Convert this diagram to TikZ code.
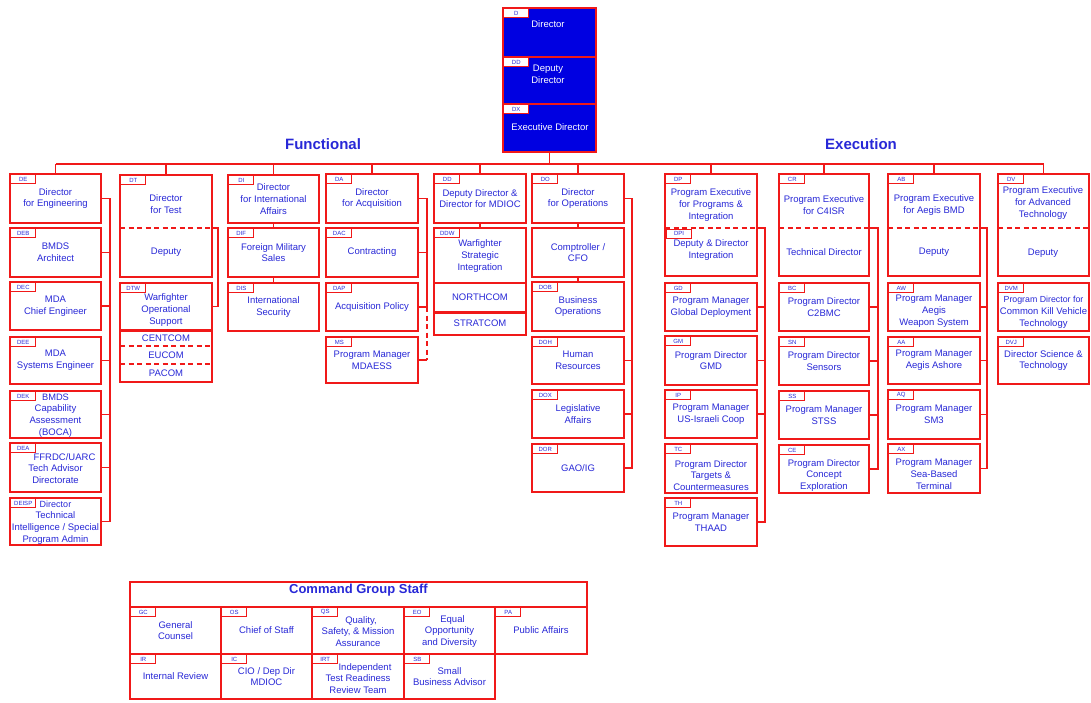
\documentclass[tikz,border=0pt]{standalone}
\usepackage{fontspec}
\setmainfont{Liberation Sans}
\usetikzlibrary{fit,calc}
\definecolor{rd}{RGB}{240,25,25}
\definecolor{tb}{RGB}{40,40,215}
\definecolor{dirblue}{RGB}{0,0,225}
\tikzset{
 obx/.style={draw=rd, line width=1.8pt, inner sep=0pt, align=center, text=tb},
 dbx/.style={draw=rd, line width=1.8pt, fill=dirblue, inner sep=0pt},
 lab/.style={draw=rd, line width=0.9pt, fill=white, text=tb, font=\fontsize{6}{6}\selectfont, minimum width=25pt, minimum height=8.5pt, inner sep=0.5pt, anchor=north west},
 conn/.style={draw=rd, line width=1.6pt},
 dsh/.style={draw=rd, line width=1.6pt, dash pattern=on 5pt off 3.5pt},
 txt/.style={text=tb, align=center, inner sep=0pt, font=\fontsize{9.5}{11.8}\selectfont},
 wtxt/.style={text=white, align=center, inner sep=0pt, font=\fontsize{9.5}{11.8}\selectfont},
 ttl/.style={text=tb, font=\fontsize{15}{17}\selectfont\bfseries, inner sep=0pt},
}
% \bx[text shift down]{name}{x1}{y1}{x2}{y2}{text}
\newcommand{\bx}[7][0]{\node[obx, fit={(#3,#4) (#5,#6)}] (#2) {};
  \node[txt] (#2-t) at ($(#2.center)+(0,#1)$) {#7};}
\newcommand{\lb}[2]{\node[lab] (#1-l) at ([shift={(1.2,1.2)}]#1.north west) {#2};}
\newcommand{\lbat}[3]{\node[lab] (#1) at (#2) {#3};}
\begin{document}
\begin{tikzpicture}[x=1pt,y=-1pt]
\useasboundingbox[fill=white] (0,0) rectangle (1091,702);
% ---------- Director block
\node[dbx, fit={(503,8) (596,57)}] (D) {};
\node[dbx, fit={(503,57) (596,104)}] (DDir) {};
\node[dbx, fit={(503,104) (596,152)}] (DX) {};
\node[wtxt] (Dt) at (548,24) {Director};
\node[wtxt] (DDt) at (548,74) {Deputy\\Director};
\node[wtxt] (DXt) at (550,127) {Executive Director};
\lb{D}{D}\lb{DDir}{DD}\lb{DX}{DX}
% ---------- titles
\node[ttl] (fn) at (323,144) {Functional};
\node[ttl] (ex) at (861,144) {Execution};
% ---------- DE column
\bx{DE}{10}{174}{101}{223}{Director\\for Engineering}
\bx{DEB}{10}{228}{101}{277}{BMDS\\Architect}
\bx{DEC}{10}{282}{101}{330}{MDA\\Chief Engineer}
\bx{DEE}{10}{337}{101}{384}{MDA\\Systems Engineer}
\bx[1]{DEK}{10}{391}{101}{438}{\fontsize{9.3}{11.2}\selectfont BMDS\\Capability\\Assessment\\(BOCA)}
\bx[1]{DEA}{10}{443}{101}{492}{\hspace*{18pt}FFRDC/UARC\\Tech Advisor\\Directorate}
\bx[1]{DEISP}{10}{498}{101}{545}{\fontsize{9}{10.8}\selectfont Director\\Technical\\Intelligence / Special\\Program Admin}
\lb{DE}{DE}\lb{DEB}{DEB}\lb{DEC}{DEC}\lb{DEE}{DEE}\lb{DEK}{DEK}\lb{DEA}{DEA}\lb{DEISP}{DEISP}
\coordinate (sDE) at (110,0);
\draw[conn] (DE.east) -- (DE.east -| sDE) -- (DEISP.east -| sDE) -- (DEISP.east);
\foreach \n in {DEB,DEC,DEE,DEK,DEA} \draw[conn] (\n.east) -- (\n.east -| sDE);
% ---------- DT column
\node[obx, fit={(120,175) (212,277)}] (DT) {};
\draw[dsh] (120,228) -- (212,228);
\node[txt] (DTa) at (166,204) {Director\\for Test};
\node[txt] (DTb) at (166,252) {Deputy};
\bx[3.5]{DTW}{120}{283}{212}{330}{Warfighter\\Operational\\Support}
\node[obx, fit={(120,331) (212,382)}] (CC) {};
\draw[dsh] (120,346) -- (212,346);
\draw[dsh] (120,364) -- (212,364);
\node[txt] (CEN) at (166,338.5) {CENTCOM};
\node[txt] (EUC) at (166,355) {EUCOM};
\node[txt] (PAC) at (166,373) {PACOM};
\lb{DT}{DT}\lb{DTW}{DTW}
\coordinate (DTd) at (212,228);
\coordinate (sDT) at (218,0);
\draw[conn] (DTd) -- (DTd -| sDT) -- (DTW.east -| sDT) -- (DTW.east);
% ---------- DI column
\bx{DI}{228}{175}{319}{223}{Director\\for International\\Affairs}
\bx{DIF}{228}{228}{319}{277}{Foreign Military\\Sales}
\bx{DIS}{228}{283}{319}{331}{International\\Security}
\lb{DI}{DI}\lb{DIF}{DIF}\lb{DIS}{DIS}
\draw[conn] (DI.south) -- (DIF.north);
\draw[conn] (DIF.south) -- (DIS.north);
% ---------- DA column
\bx{DA}{326}{174}{418}{223}{Director\\for Acquisition}
\bx{DAC}{326}{228}{418}{277}{Contracting}
\bx{DAP}{326}{283}{418}{331}{Acquisition Policy}
\bx{MS}{326}{337}{418}{383}{Program Manager\\MDAESS}
\lb{DA}{DA}\lb{DAC}{DAC}\lb{DAP}{DAP}\lb{MS}{MS}
\coordinate (sDA) at (427,0);
\draw[conn] (DA.east) -- (DA.east -| sDA) -- (DAP.east -| sDA) -- (DAP.east);
\draw[conn] (DAC.east) -- (DAC.east -| sDA);
\draw[dsh] (DAP.east -| sDA) -- (MS.east -| sDA);
\draw[conn] (MS.east -| sDA) -- (MS.east);
% ---------- DD column
\bx{DD}{434}{174}{526}{223}{Deputy Director \&\\Director for MDIOC}
\node[obx, fit={(434,228) (526,335)}] (DDW) {};
\draw[conn] (434,283) -- (526,283);
\draw[draw=rd, line width=3pt] (434,312) -- (526,312);
\node[txt] (DDWa) at (480,256) {Warfighter\\Strategic\\Integration};
\node[txt] (NOR) at (480,297) {NORTHCOM};
\node[txt] (STR) at (480,323.5) {STRATCOM};
\lb{DD}{DD}\lb{DDW}{DDW}
\draw[conn] (DD.south) -- (DDW.north);
% ---------- DO column
\bx{DO}{532}{174}{624}{223}{Director\\for Operations}
\bx{CFO}{532}{228}{624}{277}{Comptroller /\\CFO}
\bx{DOB}{532}{282}{624}{331}{Business\\Operations}
\bx{DOH}{532}{337}{624}{384}{Human\\Resources}
\bx{DOX}{532}{390}{624}{438}{Legislative\\Affairs}
\bx{DOR}{532}{444}{624}{492}{GAO/IG}
\lb{DO}{DO}\lb{DOB}{DOB}\lb{DOH}{DOH}\lb{DOX}{DOX}\lb{DOR}{DOR}
\draw[conn] (DO.south) -- (CFO.north);
\draw[conn] (CFO.south) -- (DOB.north);
\coordinate (sDO) at (632,0);
\draw[conn] (DO.east) -- (DO.east -| sDO) -- (DOR.east -| sDO) -- (DOR.east);
\foreach \n in {DOH,DOX} \draw[conn] (\n.east) -- (\n.east -| sDO);
% ---------- DP column
\node[obx, fit={(665,174) (757,276)}] (DP) {};
\draw[dsh] (665,228) -- (757,228);
\node[txt] (DPa) at (711,205) {Program Executive\\for Programs \&\\Integration};
\node[txt] (DPb) at (711,250) {Deputy \& Director\\Integration};
\lb{DP}{DP}
\lbat{DPI}{666.2,229.2}{DPI}
\bx{GD}{665}{283}{757}{331}{Program Manager\\Global Deployment}
\bx{GM}{665}{336}{757}{385}{Program Director\\GMD}
\bx{IP}{665}{390}{757}{438}{Program Manager\\US-Israeli Coop}
\bx[7]{TC}{665}{444}{757}{493}{Program Director\\Targets \&\\Countermeasures}
\bx{TH}{665}{498}{757}{546}{Program Manager\\THAAD}
\lb{GD}{GD}\lb{GM}{GM}\lb{IP}{IP}\lb{TC}{TC}\lb{TH}{TH}
\coordinate (DPd) at (757,228);
\coordinate (sDP) at (765,0);
\draw[conn] (DPd) -- (DPd -| sDP) -- (TH.east -| sDP) -- (TH.east);
\foreach \n in {GD,GM,IP} \draw[conn] (\n.east) -- (\n.east -| sDP);
% ---------- CR column
\node[obx, fit={(779,174) (869,276)}] (CR) {};
\draw[dsh] (779,228) -- (869,228);
\node[txt] (CRa) at (824,205) {Program Executive\\for C4ISR};
\node[txt] (CRb) at (824,252) {Technical Director};
\lb{CR}{CR}
\bx{BC}{779}{283}{869}{331}{Program Director\\C2BMC}
\bx{SN}{779}{337}{869}{385}{Program Director\\Sensors}
\bx{SS}{779}{391}{869}{439}{Program Manager\\STSS}
\bx[6.5]{CE}{779}{445}{869}{493}{Program Director\\Concept\\Exploration}
\lb{BC}{BC}\lb{SN}{SN}\lb{SS}{SS}\lb{CE}{CE}
\coordinate (CRd) at (869,228);
\coordinate (sCR) at (878,0);
\draw[conn] (CRd) -- (CRd -| sCR) -- (CE.east -| sCR) -- (CE.east);
\foreach \n in {BC,SN,SS} \draw[conn] (\n.east) -- (\n.east -| sCR);
% ---------- AB column
\node[obx, fit={(888,174) (980,276)}] (AB) {};
\draw[dsh] (888,228) -- (980,228);
\node[txt] (ABa) at (934,205) {Program Executive\\for Aegis BMD};
\node[txt] (ABb) at (934,252) {Deputy};
\lb{AB}{AB}
\bx[4.5]{AW}{888}{283}{980}{331}{Program Manager\\Aegis\\Weapon System}
\bx{AA}{888}{337}{980}{384}{Program Manager\\Aegis Ashore}
\bx{AQ}{888}{390}{980}{439}{Program Manager\\SM3}
\bx[5.5]{AX}{888}{444}{980}{493}{Program Manager\\Sea-Based\\Terminal}
\lb{AW}{AW}\lb{AA}{AA}\lb{AQ}{AQ}\lb{AX}{AX}
\coordinate (ABd) at (980,228);
\coordinate (sAB) at (987,0);
\draw[conn] (ABd) -- (ABd -| sAB) -- (AX.east -| sAB) -- (AX.east);
\foreach \n in {AW,AA,AQ} \draw[conn] (\n.east) -- (\n.east -| sAB);
% ---------- DV column
\node[obx, fit={(998,174) (1089,276)}] (DV) {};
\draw[dsh] (998,228) -- (1089,228);
\node[txt] (DVa) at (1043,203) {Program Executive\\for Advanced\\Technology};
\node[txt] (DVb) at (1043,253) {Deputy};
\lb{DV}{DV}
\bx[5]{DVM}{998}{283}{1089}{331}{\fontsize{8.8}{11.3}\selectfont Program Director for\\Common Kill Vehicle\\Technology}
\bx{DVJ}{998}{337}{1089}{384}{Director Science \&\\Technology}
\lb{DVM}{DVM}\lb{DVJ}{DVJ}
% ---------- top bus
\coordinate (bus) at (0,164);
\draw[conn] (DX.south) -- (DX.south |- bus);
\draw[conn] (DE.north |- bus) -- (DV.north |- bus);
\foreach \n in {DE,DT,DI,DA,DD,DO,DP,CR,AB,DV} \draw[conn] (\n.north |- bus) -- (\n.north);
% ---------- Command Group Staff
\node[obx, fit={(130,582) (587,607)}, font=\fontsize{13}{15}\selectfont\bfseries] (CGS) {Command Group Staff};
\bx{GC}{130}{607}{221}{654}{General\\Counsel}
\bx{OS}{221}{607}{312}{654}{Chief of Staff}
\bx[1]{QS}{312}{607}{404}{654}{\hspace*{6pt}Quality,\\Safety, \& Mission\\Assurance}
\bx[1]{EO}{404}{607}{495}{654}{\hspace*{6pt}Equal\\Opportunity\\and Diversity}
\bx{PA}{495}{607}{587}{654}{Public Affairs}
\bx{IR}{130}{654}{221}{699}{Internal Review}
\bx{IC}{221}{654}{312}{699}{CIO / Dep Dir\\MDIOC}
\bx[2]{IRT}{312}{654}{404}{699}{\hspace*{14pt}Independent\\Test Readiness\\Review Team}
\bx{SB}{404}{654}{495}{699}{Small\\Business Advisor}
\lb{GC}{GC}\lb{OS}{OS}\lb{QS}{QS}\lb{EO}{EO}\lb{PA}{PA}
\lb{IR}{IR}\lb{IC}{IC}\lb{IRT}{IRT}\lb{SB}{SB}
\end{tikzpicture}
\end{document}
